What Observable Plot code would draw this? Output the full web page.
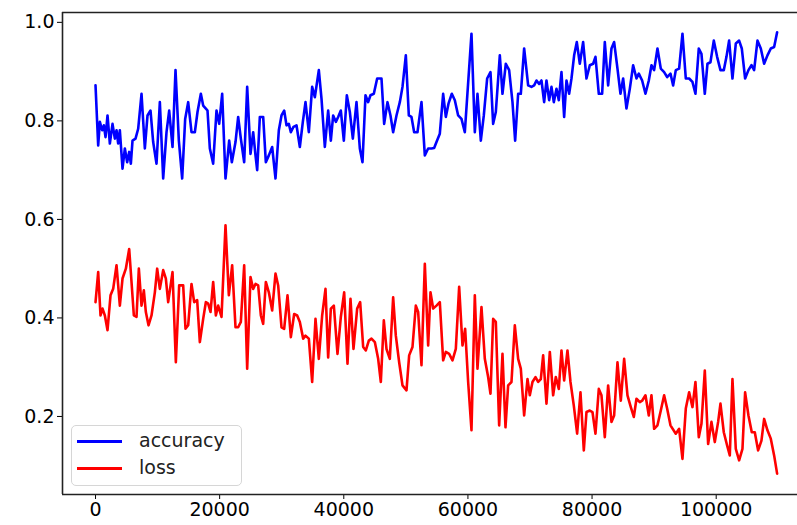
<!DOCTYPE html>
<html><head><meta charset="utf-8">
<script src="https://cdn.jsdelivr.net/npm/d3@7"></script>
<script src="https://cdn.jsdelivr.net/npm/@observablehq/plot@0.6"></script>
<style>
body{margin:0;background:#fff;}
#wrap{position:relative;width:797px;height:525px;overflow:hidden;}
.legend{position:absolute;left:71px;top:425px;width:171px;height:61px;box-sizing:border-box;border:1.5px solid #d6d6d6;border-radius:5px;background:rgba(255,255,255,0.8);font-family:"DejaVu Sans";font-size:19px;color:#222;}
.legend .row{position:absolute;left:0;height:24px;line-height:24px;}
.legend .sw{position:absolute;left:5px;top:10.5px;width:45px;height:3px;}
.legend .lab{position:absolute;left:67px;top:-1px;white-space:nowrap;}
</style></head>
<body>
<div id="wrap"></div>
<script>
const accSteps = [0,430,700,1074,1342,1611,1933,2309,2739,3115,3383,3652,3920,4350,4726,5101,5424,5692,5961,6444,6874,7411,7948,8377,8860,9290,9827,10364,10901,11438,11868,12405,12888,13425,13962,14445,14929,15466,16003,16432,16969,17345,17775,18043,18419,18956,19493,19923,20406,20943,21534,21963,
22554,22984,23414,23951,24434,24971,25401,25776,26045,26475,27012,27441,27924,28461,28998,29535,29965,30395,30771,31146,31468,31898,32382,32919,33402,33831,34368,34905,35335,35979,36409,36946,37483,37913,38289,38719,39094,39524,40007,40490,40974,41457,42048,42585,43015,43497,43927,44303,44840,45377,
46075,46504,47041,47524,47954,48491,49028,49458,49995,50478,50908,51337,51874,52519,53056,53593,54130,54559,54935,55472,56009,56439,56868,57405,57889,58426,58963,59500,60574,61111,61540,62077,62560,63097,63634,64064,64494,65138,65568,66105,66642,67179,67609,68091,68521,69058,
69703,70240,70670,71046,71475,71851,72281,72657,73086,73462,73838,74268,74643,75073,75503,75879,76308,76684,77114,77543,78027,78564,79101,79638,80175,80551,81088,81625,82054,82591,83128,83558,84095,84578,85008,85545,86082,86619,87156,87532,88069,88606,89143,89572,90002,90539,91076,91613,92096,92633,
93062,93492,94029,94566,95103,95640,96177,96660,97197,97627,98164,98593,99076,99613,100150,100687,101224,101654,102084,102621,103158,103695,104124,104661,105198,105682,106112,106649,107186,107723,108260,108797,109334,109817];
const accuracy = [0.872,0.750,0.798,0.781,0.791,0.767,0.811,0.754,0.794,0.764,0.781,0.754,0.781,0.703,0.744,0.716,0.737,0.713,0.760,0.764,0.784,0.855,0.744,0.811,0.821,0.757,0.713,0.838,0.683,0.777,0.821,0.747,0.903,0.760,0.683,0.804,0.838,0.777,0.777,0.818,0.855,0.831,0.825,0.821,0.744,0.713,0.821,0.794,0.855,0.683,0.760,0.716,
0.757,0.808,0.764,0.716,0.869,0.733,0.777,0.730,0.700,0.808,0.808,0.716,0.730,0.747,0.683,0.781,0.811,0.821,0.791,0.794,0.777,0.788,0.791,0.747,0.798,0.838,0.777,0.869,0.848,0.903,0.845,0.747,0.821,0.760,0.811,0.798,0.808,0.821,0.760,0.852,0.818,0.764,0.838,0.744,0.716,0.852,0.838,0.852,0.855,0.886,
0.886,0.794,0.838,0.811,0.777,0.811,0.838,0.869,0.933,0.811,0.808,0.777,0.777,0.838,0.730,0.744,0.744,0.745,0.757,0.774,0.855,0.808,0.835,0.855,0.842,0.811,0.804,0.777,0.977,0.777,0.855,0.760,0.811,0.886,0.899,0.794,0.818,0.933,0.855,0.916,0.903,0.838,0.760,0.855,0.855,0.947,
0.872,0.869,0.872,0.882,0.875,0.882,0.838,0.882,0.842,0.869,0.838,0.865,0.842,0.899,0.808,0.882,0.855,0.886,0.933,0.960,0.916,0.960,0.886,0.913,0.916,0.930,0.855,0.855,0.960,0.872,0.947,0.960,0.906,0.855,0.886,0.825,0.865,0.913,0.886,0.896,0.882,0.855,0.882,0.913,0.903,0.947,0.906,0.899,0.889,0.896,
0.872,0.903,0.906,0.977,0.886,0.886,0.879,0.855,0.947,0.936,0.855,0.916,0.919,0.963,0.930,0.903,0.903,0.930,0.963,0.886,0.957,0.963,0.947,0.886,0.903,0.913,0.903,0.963,0.947,0.916,0.933,0.947,0.950,0.980];

const lossSteps = [0,430,805,1128,1504,1933,2416,2846,3383,3920,4350,4887,5424,5800,6175,6605,6981,7411,7786,8109,8538,9022,9559,9934,10364,10901,11331,11707,12405,12942,13479,14123,14499,14929,15466,15895,16378,16808,17345,17775,18151,18526,18956,19386,19762,20299,20943,21480,22017,
22554,22984,23414,23951,24434,24971,25401,25776,26206,26636,27012,27441,27924,28461,28998,29428,29965,30395,30932,31469,32006,32489,32919,33456,33831,34368,34905,35442,35979,36516,37053,37483,37913,38396,38987,39524,40061,40598,41081,41564,42155,42638,43122,43551,44034,44464,45001,45538,45968,
46450,46880,47417,47954,48384,48921,49458,50102,50532,51069,51606,51982,52519,53056,53593,53968,54398,54935,55472,56009,56439,56976,57513,58050,58587,59124,59553,60037,60574,61111,61540,62184,62721,63258,63634,64064,64494,65031,65568,66051,66481,67018,67555,68091,68521,69058,
69596,69972,70401,70885,71314,71744,72120,72657,73194,73731,74160,74643,75073,75503,76040,76523,77060,77597,78134,78671,79101,79638,80067,80551,81088,81517,82054,82591,83128,83558,84095,84632,85169,85706,86243,86726,87156,87693,88069,88606,89143,89572,90002,90539,91076,91613,92096,92633,
93492,94029,94566,95103,95640,96177,96660,97197,97627,98164,98701,99238,99775,100312,100687,101224,101761,102191,102621,103158,103695,104232,104661,105198,105735,106219,106756,107293,107723,108260,108797,109334,109817];
const loss = [0.432,0.493,0.405,0.419,0.405,0.375,0.446,0.459,0.507,0.425,0.480,0.500,0.540,0.473,0.405,0.402,0.500,0.425,0.456,0.412,0.385,0.405,0.452,0.500,0.459,0.497,0.480,0.432,0.493,0.310,0.466,0.466,0.378,0.385,0.469,0.432,0.436,0.351,0.398,0.432,0.429,0.412,0.473,0.405,0.425,0.402,0.588,0.446,0.507,
0.381,0.381,0.392,0.507,0.297,0.483,0.459,0.469,0.466,0.405,0.388,0.473,0.452,0.415,0.490,0.466,0.381,0.378,0.446,0.361,0.408,0.405,0.392,0.358,0.364,0.358,0.270,0.398,0.317,0.405,0.459,0.320,0.419,0.425,0.327,0.402,0.452,0.307,0.439,0.337,0.419,0.432,0.341,0.334,0.354,0.358,0.351,0.317,0.270,
0.395,0.337,0.317,0.442,0.364,0.310,0.263,0.253,0.324,0.341,0.425,0.412,0.304,0.510,0.344,0.452,0.419,0.425,0.432,0.314,0.331,0.327,0.314,0.337,0.463,0.344,0.378,0.270,0.172,0.446,0.297,0.422,0.317,0.280,0.246,0.398,0.392,0.182,0.327,0.178,0.263,0.270,0.385,0.317,0.297,0.202,
0.276,0.243,0.270,0.280,0.270,0.276,0.324,0.226,0.331,0.243,0.280,0.256,0.334,0.273,0.334,0.270,0.222,0.165,0.249,0.131,0.209,0.212,0.209,0.165,0.256,0.243,0.158,0.263,0.189,0.202,0.310,0.232,0.317,0.243,0.219,0.199,0.236,0.229,0.232,0.243,0.202,0.243,0.175,0.182,0.212,0.243,0.216,0.182,
0.165,0.175,0.114,0.216,0.249,0.219,0.270,0.158,0.185,0.293,0.144,0.189,0.148,0.189,0.226,0.168,0.141,0.121,0.276,0.134,0.111,0.134,0.249,0.202,0.168,0.168,0.131,0.151,0.195,0.172,0.155,0.121,0.084];

const seriesNames = ["accuracy", "loss"];
const seriesColors = ["#0000ff", "#ff0000"];
const xTicks = [0, 20000, 40000, 60000, 80000, 100000];
const yTicks = [0.2, 0.4, 0.6, 0.8, 1.0];
const xDomain = [-5320, 113100];
const yDomain = [0.0416, 1.02];

const accData = accSteps.map((s, i) => ({step: s, value: accuracy[i]}));
const lossData = lossSteps.map((s, i) => ({step: s, value: loss[i]}));

const chart = Plot.plot({
  width: 797, height: 525,
  marginLeft: 62, marginRight: 0, marginTop: 12, marginBottom: 31,
  style: {fontFamily: "DejaVu Sans", fontSize: "19px", color: "#000", background: "#fff"},
  x: {domain: xDomain, ticks: xTicks, tickFormat: d3.format("d"), tickSize: 5, tickPadding: 3, label: null},
  y: {domain: yDomain, ticks: yTicks, tickFormat: d3.format(".1f"), tickSize: 5, tickPadding: 3, label: null},
  marks: [
    Plot.line(accData, {x: "step", y: "value", stroke: seriesColors[0], strokeWidth: 2.6, strokeLinejoin: "round"}),
    Plot.line(lossData, {x: "step", y: "value", stroke: seriesColors[1], strokeWidth: 2.6, strokeLinejoin: "round"}),
    Plot.ruleY([yDomain[0], yDomain[1]], {stroke: "#222", strokeWidth: 1.6}),
    Plot.ruleX([xDomain[0]], {stroke: "#222", strokeWidth: 1.6})
  ]
});
const wrap = document.getElementById("wrap");
wrap.appendChild(chart);

const legend = document.createElement("div");
legend.className = "legend";
seriesNames.forEach((name, i) => {
  const row = document.createElement("div");
  row.className = "row";
  row.style.top = (3 + i * 27) + "px";
  row.innerHTML = `<span class="sw" style="background:${seriesColors[i]}"></span><span class="lab">${name}</span>`;
  legend.appendChild(row);
});
wrap.appendChild(legend);
</script>
</body></html>
